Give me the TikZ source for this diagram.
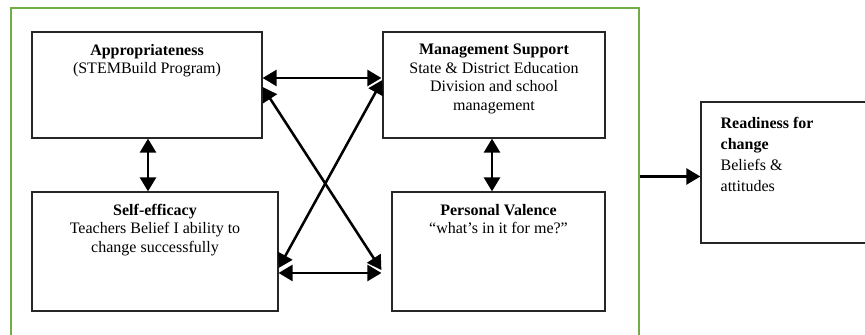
\documentclass[tikz,border=0pt]{standalone}
\usepackage{fontspec}
\setmainfont{Liberation Serif}
\usetikzlibrary{arrows.meta,calc}
\definecolor{framegreen}{HTML}{70AD47}
\begin{document}
\begin{tikzpicture}[x=0.75pt,y=-0.75pt,
  box/.style={draw=black!85,line width=0.9pt,rectangle,inner sep=0pt},
  txt/.style={inner sep=0pt,anchor=north,align=center,font=\fontsize{12pt}{13.8pt}\selectfont},
  biarrow/.style={line width=1.9pt,{Triangle[length=10.5pt,width=12pt]}-{Triangle[length=10.5pt,width=12pt]}},
  onearrow/.style={line width=1.9pt,-{Triangle[length=10.5pt,width=12pt]}}]
\clip (0,0) rectangle (865,335);
% green frame
\node[draw=framegreen,line width=1.6pt,rectangle,inner sep=0pt,minimum width=628*0.75pt,minimum height=337*0.75pt] (frame) at (325,176.5) {};
% boxes
\node[box,minimum width=230*0.75pt,minimum height=106*0.75pt] (A) at (147,85) {};
\node[box,minimum width=222*0.75pt,minimum height=106*0.75pt] (MS) at (494,85) {};
\node[box,minimum width=246*0.75pt,minimum height=119*0.75pt] (SE) at (155,251.5) {};
\node[box,minimum width=213*0.75pt,minimum height=119*0.75pt] (PV) at (498.5,251.5) {};
\node[box,minimum width=184*0.75pt,minimum height=141*0.75pt] (R) at (793,172.5) {};
% texts
\node[txt,yshift=-9.5pt] (tA) at (A.north) {\textbf{Appropriateness}\\(STEMBuild Program)};
\node[txt,yshift=-9.5pt] (tMS) at (MS.north) {\textbf{Management Support}\\State \& District Education\\Division and school\\management};
\node[txt,yshift=-9.5pt] (tSE) at (SE.north) {\textbf{Self-efficacy}\\Teachers Belief I ability to\\change successfully};
\node[txt,yshift=-9.5pt] (tPV) at (PV.north) {\textbf{Personal Valence}\\“what’s in it for me?”};
\node[txt,anchor=north west,align=left,font=\fontsize{12pt}{15.75pt}\selectfont,xshift=15pt,yshift=-12pt] (tR) at (R.north west) {\textbf{Readiness for}\\\textbf{change}\\Beliefs \&\\attitudes};
% connectors
\draw[biarrow] ([yshift=5.25pt]A.east) -- ([xshift=-0.75pt,yshift=5.25pt]MS.west);
\draw[biarrow] ([xshift=0.75pt]A.south) -- ([xshift=0.75pt]SE.north -| A.south);
\draw[biarrow] ([xshift=-1.5pt]MS.south) -- ([xshift=-1.5pt]PV.north -| MS.south);
\draw[biarrow] ([yshift=-16.1pt]SE.east) -- ([xshift=-7.5pt,yshift=-16.1pt]PV.west);
\draw[biarrow] ([yshift=-1.5pt]A.east) -- ([xshift=-7.5pt,yshift=-13.9pt]PV.west);
\draw[biarrow] ([yshift=3.75pt]MS.west) -- ([yshift=-12.4pt]SE.east);
\draw[onearrow] (frame.east) -- (frame.east -| R.west);
\end{tikzpicture}
\end{document}
